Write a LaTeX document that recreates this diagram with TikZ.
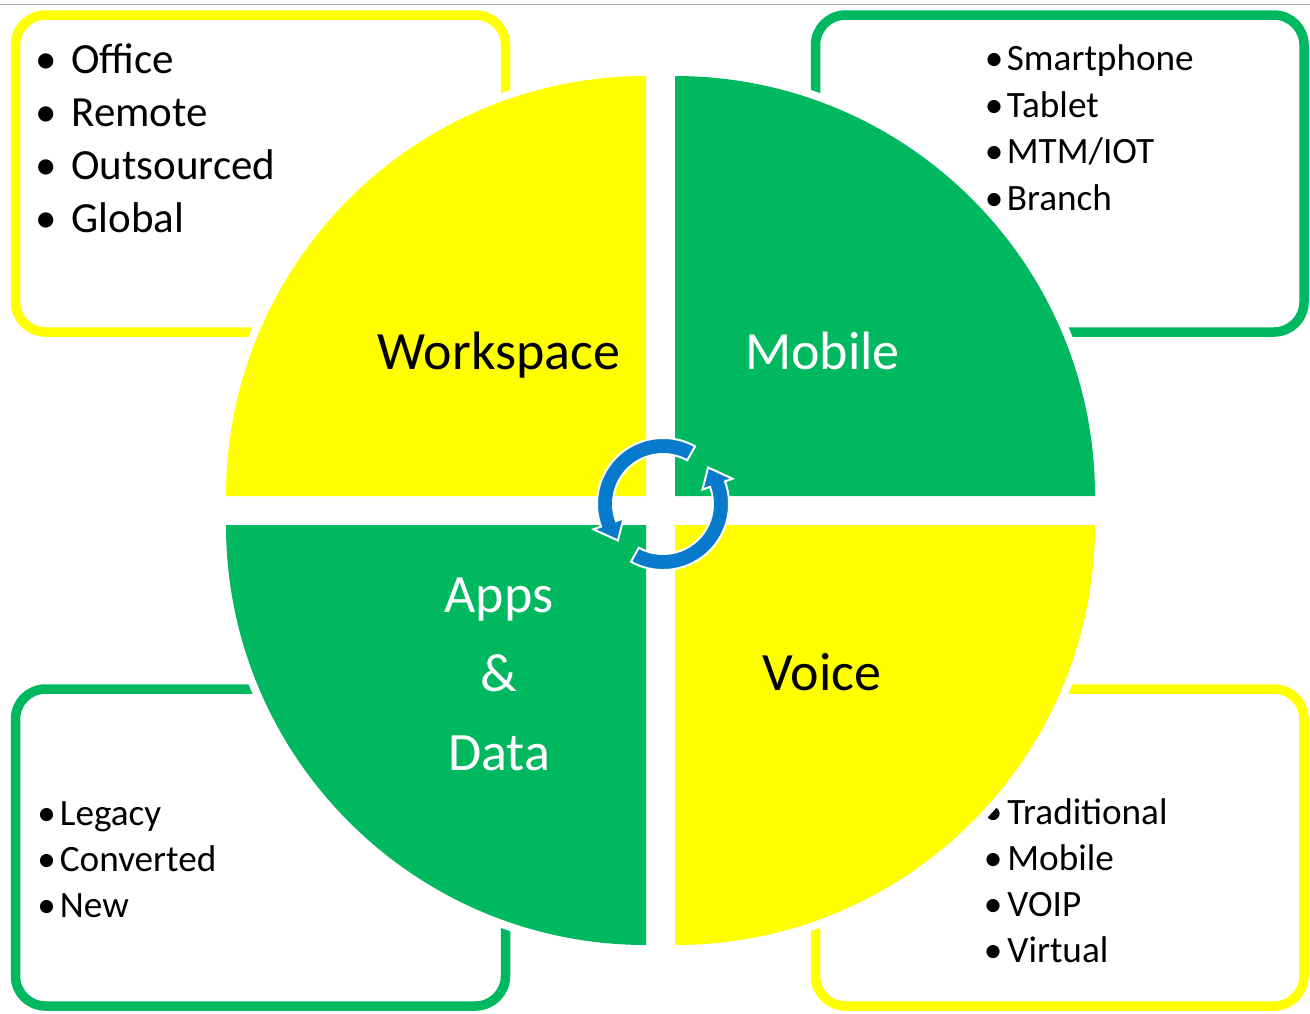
\documentclass[tikz,border=0pt]{standalone}
\usepackage{fontspec}
\setmainfont{Carlito}

\definecolor{cmyellow}{RGB}{255,255,0}
\definecolor{cmgreen}{RGB}{0,184,96}
\definecolor{cmblue}{RGB}{8,122,204}
\definecolor{rulegray}{RGB}{166,166,166}

\tikzset{
  listbox/.style={line width=4.75pt, rounded corners=15pt},
  bigitem/.style={inner sep=0pt, font=\fontsize{21.5}{21.5}\selectfont},
  smallitem/.style={inner sep=0pt, font=\fontsize{18.6}{18.6}\selectfont},
  quarterlabel/.style={inner sep=0pt, font=\fontsize{27}{39.5}\selectfont, align=center},
  cyclearrow/.style={fill=cmblue, draw=white, line width=1pt}
}

\begin{document}
\begin{tikzpicture}[x=0.5pt,y=-0.5pt]
\useasboundingbox (0,0) rectangle (1310,1013);

%TOP RULE
\draw[rulegray, line width=0.75pt] (0,4.5) -- (1310,4.5);

%BOXES
% top left, top right
\draw[listbox, cmyellow] (15.5,15) rectangle (505.5,332);
\draw[listbox, cmgreen] (815.5,15) rectangle (1304,332);
% bottom left, bottom right
\draw[listbox, cmgreen] (15.5,689) rectangle (505.5,1006);
\draw[listbox, cmyellow] (815.5,689) rectangle (1304,1006);

%LISTS
% workspace
\foreach \t [count=\i] in {Office,Remote,Outsourced,Global} {
  \node[bigitem, anchor=base] (wsdot\i) at (46.7,{73.8+52.8*(\i-1)}) {•};
  \node[bigitem, anchor=base west] (ws\i) at (71,{73.8+52.8*(\i-1)}) {\t};
}
% mobile
\foreach \t [count=\i] in {Smartphone,Tablet,MTM/IOT,Branch} {
  \node[smallitem, anchor=base] (mbdot\i) at (994,{70.5+46.7*(\i-1)}) {•};
  \node[smallitem, anchor=base west] (mb\i) at (1006.5,{70.5+46.7*(\i-1)}) {\t};
}
% apps and data
\foreach \t [count=\i] in {Legacy,Converted,New} {
  \node[smallitem, anchor=base] (addot\i) at (46.7,{825+46*(\i-1)}) {•};
  \node[smallitem, anchor=base west] (ad\i) at (59.5,{825+46*(\i-1)}) {\t};
}
% voice
\foreach \t [count=\i] in {Traditional,Mobile,VOIP,Virtual} {
  \node[smallitem, anchor=base] (vodot\i) at (993,{824.3+46*(\i-1)}) {•};
  \node[smallitem, anchor=base west] (vo\i) at (1007,{824.3+46*(\i-1)}) {\t};
}

%QUARTERS
% white halo first
\foreach \ax/\ay/\sa in {646/496/180, 675/496/270, 675/525/0, 646/525/90}
  \fill[white] (\ax,\ay) -- ++(\sa:428) arc[start angle=\sa, delta angle=90, radius=428] -- cycle;
% then the colour
\foreach \ax/\ay/\sa/\col in {646/496/180/cmyellow, 675/496/270/cmgreen, 675/525/0/cmyellow, 646/525/90/cmgreen}
  \fill[\col] (\ax,\ay) -- ++(\sa:420) arc[start angle=\sa, delta angle=90, radius=420] -- cycle;

%LABELS
\node[quarterlabel, anchor=base] (workspace) at (499,369) {Workspace};
\node[quarterlabel, anchor=base, white] (mobile) at (822.5,369) {Mobile};
\node[quarterlabel, anchor=base] (voice) at (821.7,690.5) {Voice};
\node[quarterlabel, anchor=north, white] (appsdata) at (499,577) {Apps\\\&\\Data};

%CYCLE ARROWS
\begin{scope}[shift={(663,504)}, yscale=-1]
% upper left arrow
\path[cyclearrow] (61:66) arc[start angle=61, end angle=200, radius=66] -- (200:74) -- (219:58) -- (200:42) -- (200:50) arc[start angle=200, end angle=61, radius=50] -- cycle;
% lower right arrow
\path[cyclearrow] (241:66) arc[start angle=241, end angle=380, radius=66] -- (380:74) -- (399:58) -- (380:42) -- (380:50) arc[start angle=380, end angle=241, radius=50] -- cycle;
\end{scope}

\end{tikzpicture}
\end{document}
